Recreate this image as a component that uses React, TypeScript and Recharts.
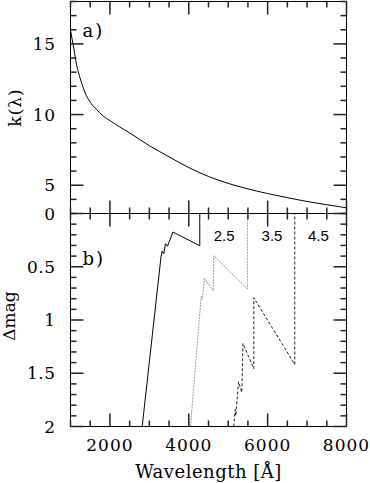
import React from 'react';
import { LineChart, Line, XAxis, YAxis, ReferenceDot } from 'recharts';

// ---- panel a) : k(lambda) ----
const kLambda = [1000, 1040, 1090, 1150, 1250, 1400, 1520, 1660, 1820, 2000, 2500, 3000, 3500, 4000, 4500, 5000, 5500, 6000, 6500, 7000, 7500, 8000];
const kValue = [15.98, 15.35, 14.57, 13.58, 12.52, 11.36, 10.8, 10.36, 9.92, 9.57, 8.7, 7.8, 7.01, 6.25, 5.62, 5.13, 4.74, 4.41, 4.12, 3.85, 3.62, 3.4];

// ---- panel b) : delta mag curves ----
const solidLambda = [2818, 3295, 3325, 3366, 3409, 3460, 3599, 4279, 4279];
const solidDmag = [2.0, 0.408, 0.354, 0.378, 0.284, 0.307, 0.174, 0.303, 0.0];

const grayLambda = [4043, 4314, 4340, 4398, 4619, 4634, 5486, 5486];
const grayDmag = [2.0, 0.78, 0.806, 0.608, 0.728, 0.396, 0.709, 0.0];

const dashLambda = [5141, 5177, 5192, 5261, 5344, 5374, 5649, 5649, 6688, 6688];
const dashDmag = [2.0, 1.84, 1.9, 1.58, 1.68, 1.22, 1.458, 0.79, 1.418, 0.0];

const zLabels = ['2.5', '3.5', '4.5'];
const zLabelLambda = [4895, 6110, 7290];
const zLabelDmag = [0.207, 0.207, 0.207];

// ---- ticks ----
const xDomain = [1000, 8000];
const xTicks = [1000, 1500, 2000, 2500, 3000, 3500, 4000, 4500, 5000, 5500, 6000, 6500, 7000, 7500, 8000];
const xMajor = [2000, 4000, 6000, 8000];
const kDomain = [3, 18];
const kTicks = [3, 4, 5, 6, 7, 8, 9, 10, 11, 12, 13, 14, 15, 16, 17, 18];
const kMajor = [5, 10, 15];
const dDomain = [0, 2];
const dTicks = [0, 0.1, 0.2, 0.3, 0.4, 0.5, 0.6, 0.7, 0.8, 0.9, 1, 1.1, 1.2, 1.3, 1.4, 1.5, 1.6, 1.7, 1.8, 1.9, 2];
const dMajor = [0, 0.5, 1, 1.5, 2];

const kData = kLambda.map((x, i) => ({ x, y: kValue[i] }));
const solidData = solidLambda.map((x, i) => ({ x, y: solidDmag[i] }));
const grayData = grayLambda.map((x, i) => ({ x, y: grayDmag[i] }));
const dashData = dashLambda.map((x, i) => ({ x, y: dashDmag[i] }));

const FONT = 'DejaVu Serif';
const TICK = '#222';

type Side = 'left' | 'right' | 'top' | 'bottom';

const isMajor = (majors: number[], v: number) => majors.some((m) => Math.abs(m - v) < 1e-6);

function makeTick(side: Side, majors: number[], labels: boolean) {
  return (props: any) => {
    const x = Number(props.x);
    const y = Number(props.y);
    const v = Number(props.payload && props.payload.value);
    const major = isMajor(majors, v);
    const len = major ? 13 : 6;
    let d = '';
    if (side === 'left') d = `M${x},${y}H${x + len}`;
    if (side === 'right') d = `M${x},${y}H${x - len}`;
    if (side === 'top') d = `M${x},${y}V${y + len}`;
    if (side === 'bottom') d = `M${x},${y}V${y - len}`;
    let label: any = null;
    if (labels && major) {
      const txt = String(v);
      if (side === 'left') {
        label = (
          <text x={x - 15} y={y} dy="0.36em" textAnchor="end" fontFamily={FONT} fontSize={17} letterSpacing={0.5} fill="#000" stroke="none">
            {txt}
          </text>
        );
      } else if (side === 'bottom') {
        label = (
          <text x={x} y={y + 24} textAnchor="middle" fontFamily={FONT} fontSize={17} letterSpacing={1} fill="#000" stroke="none">
            {txt}
          </text>
        );
      }
    }
    return (
      <g>
        <path d={d} stroke={TICK} strokeWidth={1.5} fill="none" />
        {label}
      </g>
    );
  };
}

const topLeftLabel = (props: any) => {
  const vb = props.viewBox || {};
  const cx = 21;
  const cy = vb.y + vb.height / 2;
  return (
    <g>
      <text x={cx} y={cy} transform={`rotate(-90 ${cx} ${cy})`} textAnchor="middle" fontFamily={FONT} fontSize={17} letterSpacing={1} fill="#000">
        k(λ)
      </text>
      <text x={vb.x + vb.width + 12} y={vb.y + 35.5} fontFamily={FONT} fontSize={18} letterSpacing={2} fill="#000">
        a)
      </text>
    </g>
  );
};

const bottomLeftLabel = (props: any) => {
  const vb = props.viewBox || {};
  const cx = 15;
  const cy = vb.y + vb.height / 2 - 4;
  return (
    <g>
      <text x={cx} y={cy} transform={`rotate(-90 ${cx} ${cy})`} textAnchor="middle" fontFamily={FONT} fontSize={17} fill="#000">
        Δmag
      </text>
      <text x={vb.x + vb.width + 12} y={vb.y + 51.5} fontFamily={FONT} fontSize={18} letterSpacing={2} fill="#000">
        b)
      </text>
    </g>
  );
};

const bottomXLabel = (props: any) => {
  const vb = props.viewBox || {};
  return (
    <text x={vb.x + vb.width / 2} y={vb.y + vb.height - 5} textAnchor="middle" fontFamily={FONT} fontSize={18} letterSpacing={0.5} fill="#000">
      Wavelength [Å]
    </text>
  );
};

const zLabelContent = (txt: string) => (props: any) => {
  const vb = props.viewBox || {};
  const cx = vb.x + (vb.width || 0) / 2;
  const cy = vb.y + (vb.height || 0) / 2;
  return (
    <text x={cx} y={cy} dy="0.36em" textAnchor="middle" fontFamily="Liberation Sans" fontSize={15} fill="#000">
      {txt}
    </text>
  );
};

const axisLine = { stroke: '#000', strokeWidth: 1 };

export default function App() {
  return (
    <div style={{ position: 'absolute', left: 0, top: 0, width: 370, height: 483, background: '#fff' }}>
      <div style={{ position: 'absolute', left: 0, top: 0 }}>
        <LineChart width={370} height={215} margin={{ top: 0.5, right: 22.5, bottom: 0.5, left: 0.5 }} style={{ overflow: 'visible' }}>
          <XAxis xAxisId="b" type="number" dataKey="x" domain={xDomain} allowDataOverflow ticks={xTicks} interval={0}
            orientation="bottom" height={1} tickSize={0} tickMargin={0} tickLine={false} axisLine={axisLine}
            tick={makeTick('bottom', xMajor, false)} />
          <XAxis xAxisId="t" type="number" dataKey="x" domain={xDomain} allowDataOverflow ticks={xTicks} interval={0}
            orientation="top" height={1} tickSize={0} tickMargin={0} tickLine={false} axisLine={axisLine}
            tick={makeTick('top', xMajor, false)} />
          <YAxis yAxisId="l" type="number" domain={kDomain} allowDataOverflow ticks={kTicks} interval={0}
            orientation="left" width={70} tickSize={0} tickMargin={0} tickLine={false} axisLine={axisLine}
            tick={makeTick('left', kMajor, true)} label={topLeftLabel} />
          <YAxis yAxisId="r" type="number" domain={kDomain} allowDataOverflow ticks={kTicks} interval={0}
            orientation="right" width={1} tickSize={0} tickMargin={0} tickLine={false} axisLine={axisLine}
            tick={makeTick('right', kMajor, false)} />
          <Line xAxisId="b" yAxisId="l" data={kData} dataKey="y" type="monotone" stroke="#000" strokeWidth={1}
            dot={false} isAnimationActive={false} />
        </LineChart>
      </div>
      <div style={{ position: 'absolute', left: 0, top: 200 }}>
        <LineChart width={370} height={283} margin={{ top: 12.5, right: 22.5, bottom: 0.5, left: 0.5 }} style={{ overflow: 'visible' }}>
          <XAxis xAxisId="b" type="number" dataKey="x" domain={xDomain} allowDataOverflow ticks={xTicks} interval={0}
            orientation="bottom" height={56} tickSize={0} tickMargin={0} tickLine={false} axisLine={axisLine}
            tick={makeTick('bottom', xMajor, true)} label={bottomXLabel} />
          <XAxis xAxisId="t" type="number" dataKey="x" domain={xDomain} allowDataOverflow ticks={xTicks} interval={0}
            orientation="top" height={1} tickSize={0} tickMargin={0} tickLine={false} axisLine={axisLine}
            tick={makeTick('top', xMajor, false)} />
          <YAxis yAxisId="l" type="number" domain={dDomain} reversed allowDataOverflow ticks={dTicks} interval={0}
            orientation="left" width={70} tickSize={0} tickMargin={0} tickLine={false} axisLine={axisLine}
            tick={makeTick('left', dMajor, true)} label={bottomLeftLabel} />
          <YAxis yAxisId="r" type="number" domain={dDomain} reversed allowDataOverflow ticks={dTicks} interval={0}
            orientation="right" width={1} tickSize={0} tickMargin={0} tickLine={false} axisLine={axisLine}
            tick={makeTick('right', dMajor, false)} />
          <Line xAxisId="b" yAxisId="l" data={solidData} dataKey="y" type="linear" stroke="#000" strokeWidth={1}
            dot={false} isAnimationActive={false} />
          <Line xAxisId="b" yAxisId="l" data={grayData} dataKey="y" type="linear" stroke="#9a9a9a" strokeWidth={1}
            strokeDasharray="2 1" dot={false} isAnimationActive={false} />
          <Line xAxisId="b" yAxisId="l" data={dashData} dataKey="y" type="linear" stroke="#222" strokeWidth={1}
            strokeDasharray="3 2" dot={false} isAnimationActive={false} />
          {zLabels.map((z, i) => (
            <ReferenceDot key={z} xAxisId="b" yAxisId="l" x={zLabelLambda[i]} y={zLabelDmag[i]} r={0}
              fill="none" stroke="none" label={zLabelContent(z)} />
          ))}
        </LineChart>
      </div>
    </div>
  );
}
